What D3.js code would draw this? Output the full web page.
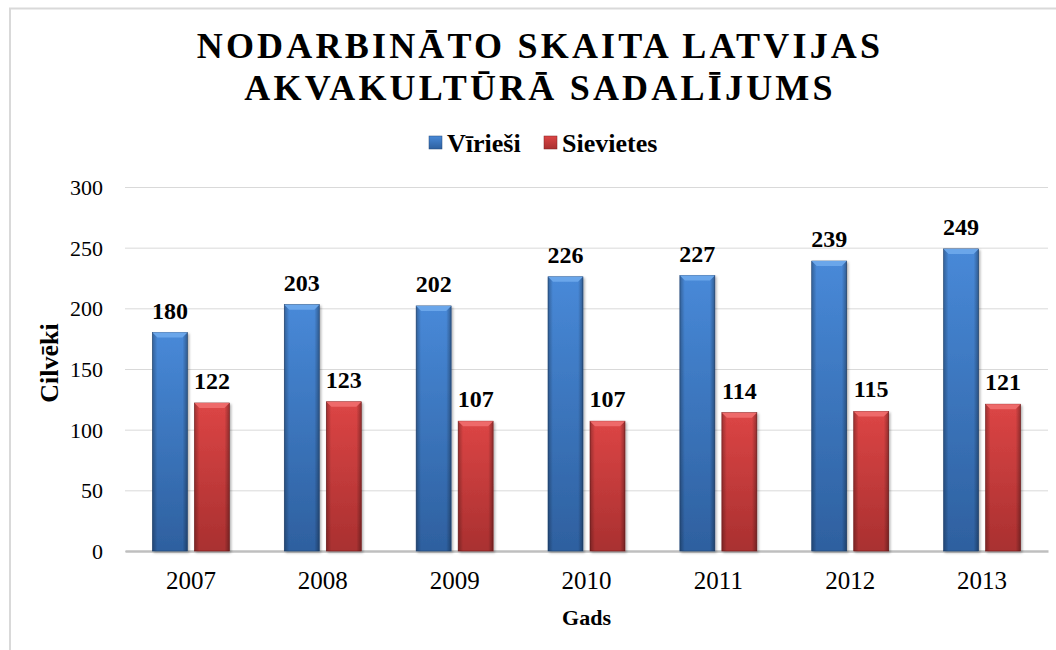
<!DOCTYPE html>
<html>
<head>
<meta charset="utf-8">
<script src="https://cdn.jsdelivr.net/npm/d3@7"></script>
<style>
  body { margin: 0; background: #fff; }
  svg text { font-family: "Liberation Serif", "Times New Roman", serif; fill: #000; }
</style>
</head>
<body>
<svg id="chart"></svg>
<script>
// data
const years = ['2007', '2008', '2009', '2010', '2011', '2012', '2013'];
const seriesNames = ['Vīrieši', 'Sievietes'];
const men = [180, 203, 202, 226, 227, 239, 249];
const women = [122, 123, 107, 107, 114, 115, 121];
const yTicks = [0, 50, 100, 150, 200, 250, 300];

const titleLines = ['NODARBINĀTO SKAITA LATVIJAS', 'AKVAKULTŪRĀ SADALĪJUMS'];

const width = 1056, height = 650;
const margin = {top: 187, right: 8, bottom: 99, left: 125};
const innerW = width - margin.left - margin.right;
const innerH = height - margin.top - margin.bottom;

const svg = d3.select('#chart')
    .attr('width', width)
    .attr('height', height);

const defs = svg.append('defs');

// gradients for the bevelled bar look
const palette = {
  'Vīrieši': {top: '#4889d8', bottom: '#2e609f', bevel: '#6aa6ea', edge: '#24497a'},
  'Sievietes': {top: '#dc4545', bottom: '#a93030', bevel: '#ee6a6a', edge: '#7e2222'}
};
seriesNames.forEach((s, i) => {
  const g = defs.append('linearGradient')
      .attr('id', 'body' + i)
      .attr('x1', 0).attr('y1', 0).attr('x2', 0).attr('y2', 1);
  g.append('stop').attr('offset', '0%').attr('stop-color', palette[s].top);
  g.append('stop').attr('offset', '100%').attr('stop-color', palette[s].bottom);
});
const side = defs.append('linearGradient')
    .attr('id', 'side')
    .attr('x1', 0).attr('y1', 0).attr('x2', 1).attr('y2', 0);
side.append('stop').attr('offset', '0%').attr('stop-color', '#000').attr('stop-opacity', 0.28);
side.append('stop').attr('offset', '14%').attr('stop-color', '#000').attr('stop-opacity', 0);
side.append('stop').attr('offset', '86%').attr('stop-color', '#000').attr('stop-opacity', 0);
side.append('stop').attr('offset', '100%').attr('stop-color', '#000').attr('stop-opacity', 0.32);

const shadow = defs.append('filter').attr('id', 'shadow')
    .attr('x', '-20%').attr('y', '-5%').attr('width', '150%').attr('height', '115%');
shadow.append('feDropShadow')
    .attr('dx', 1.5).attr('dy', 1.5).attr('stdDeviation', 1.2)
    .attr('flood-color', '#000').attr('flood-opacity', 0.3);

// outer frame (only top and left edges are visible)
svg.append('rect')
    .attr('x', 10).attr('y', 8.5)
    .attr('width', 1100).attr('height', 700)
    .attr('fill', 'none')
    .attr('stroke', '#d9d9d9')
    .attr('stroke-width', 2);

// title
svg.append('text')
    .attr('text-anchor', 'middle')
    .style('font-size', '36px')
    .style('font-weight', 'bold')
    .style('letter-spacing', '3.2px')
    .selectAll('tspan')
    .data(titleLines)
  .join('tspan')
    .attr('x', width / 2 + 12)
    .attr('y', (d, i) => 58 + i * 42)
    .text(d => d);

const chart = svg.append('g')
    .attr('transform', `translate(${margin.left},${margin.top})`);

const x0 = d3.scaleBand()
    .domain(years)
    .range([0, innerW])
    .paddingInner(0.416)
    .paddingOuter(0.208);

const x1 = d3.scaleBand()
    .domain(seriesNames)
    .range([0, x0.bandwidth()])
    .paddingInner(1 / 6);

const y = d3.scaleLinear()
    .domain([0, 300])
    .range([innerH, 0]);

// gridlines
const yAxis = d3.axisLeft(y)
    .tickValues(yTicks)
    .tickSize(-innerW)
    .tickPadding(22)
    .tickFormat(d3.format('d'));

chart.append('g')
    .attr('class', 'y-axis')
    .call(yAxis)
    .call(g => g.select('.domain').remove())
    .call(g => g.selectAll('.tick line').attr('stroke', '#d9d9d9').attr('stroke-width', 1))
    .call(g => g.selectAll('.tick text')
        .style('font-size', '22px')
        .attr('dy', '0.34em'));

const xAxis = d3.axisBottom(x0)
    .tickSize(0)
    .tickPadding(20);

chart.append('g')
    .attr('class', 'x-axis')
    .attr('transform', `translate(0,${innerH})`)
    .call(xAxis)
    .call(g => g.select('.domain').attr('stroke', '#bfbfbf').attr('stroke-width', 2.5))
    .call(g => g.selectAll('.tick text')
        .style('font-size', '25px'));

// bars
const rows = years.map((yr, i) => ({
  year: yr,
  values: [{key: seriesNames[0], i: 0, v: men[i]}, {key: seriesNames[1], i: 1, v: women[i]}]
}));

const groups = chart.selectAll('.group')
    .data(rows)
  .join('g')
    .attr('class', 'group')
    .attr('transform', d => `translate(${x0(d.year)},0)`);

const bars = groups.selectAll('.bar')
    .data(d => d.values)
  .join('g')
    .attr('class', 'bar')
    .attr('transform', d => `translate(${x1(d.key)},0)`);

const bw = x1.bandwidth();
const bev = 5;

bars.append('rect')
    .attr('x', 0)
    .attr('y', d => y(d.v))
    .attr('width', bw)
    .attr('height', d => innerH - y(d.v))
    .attr('fill', d => `url(#body${d.i})`)
    .attr('stroke', d => palette[d.key].edge)
    .attr('stroke-width', 0.6)
    .attr('filter', 'url(#shadow)');

bars.append('rect')
    .attr('x', 0)
    .attr('y', d => y(d.v))
    .attr('width', bw)
    .attr('height', d => innerH - y(d.v))
    .attr('fill', 'url(#side)');

// top bevel
bars.append('path')
    .attr('d', d => {
      const t = y(d.v);
      return `M0,${t} L${bw},${t} L${bw - bev},${t + bev} L${bev},${t + bev} Z`;
    })
    .attr('fill', d => palette[d.key].bevel);

// value labels
bars.append('text')
    .attr('x', bw / 2)
    .attr('y', d => y(d.v) - 14)
    .attr('text-anchor', 'middle')
    .style('font-size', '24px')
    .style('font-weight', 'bold')
    .text(d => d.v);

// axis titles
chart.append('text')
    .attr('x', innerW / 2)
    .attr('y', innerH + 74)
    .attr('text-anchor', 'middle')
    .style('font-size', '22px')
    .style('font-weight', 'bold')
    .text('Gads');

svg.append('text')
    .attr('transform', `translate(58,363) rotate(-90)`)
    .attr('text-anchor', 'middle')
    .style('font-size', '26px')
    .style('font-weight', 'bold')
    .text('Cilvēki');

// legend
const legend = svg.append('g')
    .attr('transform', 'translate(429,143)');

const legendX = [0, 115];
const item = legend.selectAll('.legend-item')
    .data(seriesNames)
  .join('g')
    .attr('class', 'legend-item')
    .attr('transform', (d, i) => `translate(${legendX[i]},0)`);

item.append('rect')
    .attr('x', 0).attr('y', -7)
    .attr('width', 13).attr('height', 13)
    .attr('fill', (d, i) => `url(#body${i})`)
    .attr('stroke', d => palette[d].edge)
    .attr('stroke-width', 0.5);

item.append('text')
    .attr('x', 18)
    .attr('y', 9)
    .style('font-size', '26px')
    .style('font-weight', 'bold')
    .text(d => d);
</script>
</body>
</html>
